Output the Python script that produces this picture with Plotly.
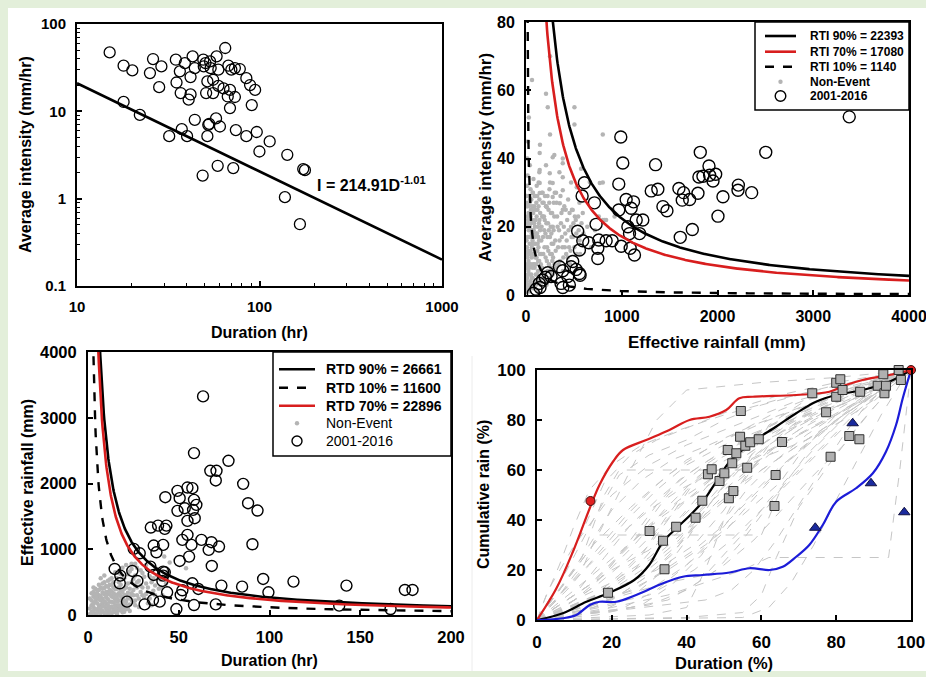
import numpy as np
import plotly.graph_objects as go

FONT = "Liberation Sans, Arial, Helvetica, sans-serif"
RED = "#d81e1e"
BLUE = "#1c1cd8"
DOT_GREY = "#b4b4b4"
W, H = 926, 677

# ---------------- (a) intensity vs duration, 2001-2016 events ----------------
id_duration = [15.1, 18.0, 20.1, 18.0, 22.1, 26.1, 25.1, 29.0, 28.2, 32.0, 34.8, 35.1,
               36.6, 37.0, 37.5, 39.0, 40.1, 40.9, 41.9, 41.9, 43.0, 44.2, 44.2, 49.2,
               49.5, 50.6, 51.8, 51.0, 51.8, 52.4, 53.0, 54.0, 53.6, 55.7, 55.7, 57.8,
               58.2, 59.5, 59.5, 60.7, 59.0, 48.8, 64.9, 63.5, 67.0, 67.5, 68.9, 68.9,
               70.1, 71.8, 73.3, 73.3, 74.2, 78.0, 84.7, 84.7, 88.8, 90.7, 94.6, 96.6,
               99.9, 113.7, 137.8, 142.0, 166.5, 173.6, 177.4]
id_intensity = [47.3, 33.3, 29.4, 12.8, 9.1, 39.7, 27.4, 32.7, 18.9, 5.2, 39.0, 21.4,
                28.7, 16.2, 6.25, 35.7, 5.2, 13.6, 15.6, 24.7, 42.6, 31.3, 8.0, 39.0,
                32.7, 35.7, 22.0, 16.2, 5.2, 7.0, 7.2, 31.3, 37.3, 16.2, 23.0, 8.3,
                42.6, 19.6, 30.0, 6.7, 2.38, 1.84, 53.1, 18.3, 14.8, 33.3, 10.9, 17.6,
                30.0, 2.24, 31.3, 14.6, 6.1, 30.5, 24.0, 5.2, 20.0, 11.8, 17.6, 5.8,
                3.47, 4.52, 1.04, 3.18, 0.51, 2.18, 2.12]
ID_COEF = 214.91
ID_EXP = -1.01

# ---------------- (b) intensity vs effective rainfall ----------------
rti_names = ["RTI 90% = 22393", "RTI 70% = 17080", "RTI 10% = 1140"]
rti_values = [22393, 17080, 1140]

ri_rain = [3376, 2504, 1820, 990, 1011, 1353, 969, 610, 586, 715, 732, 750, 750, 760,
           969, 1046, 1123, 1098, 1064, 1081, 1088, 1133, 1151, 1220, 1186, 994, 900,
           837, 656, 593, 540, 558, 1308, 1377, 1430, 1472, 1597, 1646, 1632, 1709,
           1796, 1806, 1848, 1911, 1918, 1981, 1953, 2057, 2005, 2218, 2214, 2357,
           1737, 1611, 349, 384, 471, 523, 558, 565, 436, 366, 384, 453, 262, 227,
           202, 174, 146, 105, 77, 139, 488]
ri_intensity = [52.2, 41.8, 41.8, 46.3, 38.7, 38.2, 32.5, 32.9, 29.0, 27.0, 20.7, 10.7,
                13.7, 16.1, 24.9, 28.0, 27.3, 25.4, 20.0, 18.0, 13.7, 11.7, 22.0, 22.0,
                18.0, 14.3, 15.9, 15.9, 15.3, 15.9, 18.7, 13.2, 30.5, 31.0, 25.9, 24.7,
                31.2, 30.0, 27.8, 28.0, 29.8, 34.6, 34.8, 37.8, 35.1, 35.4, 33.4, 28.8,
                23.1, 32.2, 30.7, 30.0, 19.2, 16.9, 8.3, 7.1, 8.3, 7.5, 6.3, 5.8, 5.4,
                3.4, 2.2, 2.9, 5.4, 6.5, 5.2, 4.4, 2.2, 1.7, 0.5, 3.4, 9.8]

ne_rain = [8, 12, 6, 15, 9, 20, 18, 5, 25, 11, 30, 22, 7, 35, 28, 14, 40, 33, 45, 38,
           50, 42, 55, 48, 60, 52, 17, 3, 26, 36, 44, 58, 62, 21, 31, 9, 47, 57, 66, 13,
           70, 75, 80, 85, 72, 90, 95, 100, 105, 110, 115, 120, 78, 88, 98, 125, 130,
           135, 140, 145, 68, 83, 93, 108, 118, 128, 138, 148, 112, 132, 103, 122,
           155, 160, 170, 180, 190, 200, 210, 220, 230, 240, 250, 260, 270, 280, 290,
           165, 185, 205, 225, 245, 265, 285, 175, 215, 255, 195, 235, 275, 295, 300,
           310, 330, 350, 370, 390, 410, 430, 450, 470, 490, 510, 530, 550, 320, 360,
           400, 440, 480, 520, 560, 340, 380, 420, 460, 580, 600, 640, 680, 720, 760,
           63, 251, 209, 227, 506, 506, 802, 146, 251, 296, 384, 209, 349, 139, 251,
           471, 575, 70, 174, 314, 63, 209, 384, 558, 802, 837, 174, 35, 143, 279, 384,
           143, 248, 384, 143, 279, 384, 530, 666, 771, 143, 279, 217, 353, 488, 593,
           802, 907, 820, 925, 20, 30, 15, 40,
           4, 6, 10, 13, 16, 19, 23, 27, 29, 32, 34, 37, 39, 43, 46, 49, 51, 54, 56, 59,
           61, 64, 67, 69, 73, 76, 79, 81, 84, 87, 89, 92, 94, 97, 101, 104, 107, 111,
           114, 117, 121, 124, 127, 131, 134, 137, 141, 144, 147, 152, 158, 163, 168,
           172, 178, 183, 188, 193, 198, 203, 208, 213, 218, 223, 228, 233, 238, 243,
           248, 253, 258, 263, 268, 273, 278, 283, 288, 298, 305, 315, 325, 335, 345,
           355, 365, 375, 385, 395, 405, 415, 425, 435, 445, 455, 465, 475, 495, 505,
           525, 545, 565]
ne_intensity = [2, 5, 8, 11, 14, 3, 17, 20, 7, 23, 12, 26, 29, 1, 19, 32, 9, 24, 4, 15,
                21, 28, 6, 13, 18, 25, 35, 12, 10, 6, 17, 11, 3, 22, 29, 26, 31, 15, 22, 1,
                5, 12, 19, 26, 30, 8, 15, 22, 3, 11, 18, 25, 34, 2, 29, 7, 14, 21, 28, 4,
                16, 9, 20, 27, 13, 17, 10, 24, 32, 33, 6, 1,
                9, 16, 23, 12, 19, 6, 26, 14, 21, 9, 17, 24, 12, 20, 27,
                30, 27, 11, 29, 31, 18, 15, 5, 3, 7, 22, 25, 10, 23, 30,
                13, 20, 16, 24, 11, 18, 22, 14, 20, 17, 23, 12, 19, 27, 29,
                26, 28, 25, 22, 16, 9, 14, 12, 9, 21, 18, 20, 14, 19, 23,
                63, 70, 59, 55, 55, 50, 47, 44, 47, 41, 40, 38, 36, 36, 33,
                33, 37, 30, 30, 30, 26, 26, 25, 27, 33, 22, 23, 20, 41.6, 40.4, 38.6,
                36.6, 35.7, 34.5, 32.8, 32.8, 30.7, 31.6, 33.1, 32.8, 29.9, 28.7, 25.8, 26.9, 24.9, 24.0,
                22.0, 24.9, 22, 23, 45, 52, 40, 38,
                4, 16, 27, 9, 21, 6, 13, 24, 3, 17, 8, 27, 20, 12, 2, 23, 9, 19, 28, 5,
                14, 25, 8, 19, 2, 24, 9, 15, 21, 12, 29, 4, 17, 11, 25, 18, 9, 23,
                6, 29, 15, 20, 10, 26, 5, 16, 22, 12, 19, 3, 12, 20, 8,
                27, 17, 5, 23, 14, 29, 18, 4, 21, 10, 17, 7, 13, 19, 27,
                5, 12, 20, 8, 15, 24, 6, 11, 19, 9, 16, 8, 23, 14, 19,
                10, 21, 17, 7, 20, 14, 25, 16, 11, 19, 24, 13, 17, 21, 14,
                18, 23, 12]

# ---------------- (c) effective rainfall vs duration ----------------
rtd_names = ["RTD 90% = 26661", "RTD 10% = 11600", "RTD 70% = 22896"]
rtd_values = [26661, 11600, 22896]

rd_duration = [63.4, 58.4, 77.4, 67.4, 70.8, 70.4, 85.5, 88.2, 93.4, 90.6, 42.6, 49.3,
               50.5, 54.8, 57.5, 58.4, 59.7, 53.3, 49.3, 57.9, 54.8, 58.8, 34.6, 38.6,
               43.2, 42.3, 54.8, 52.0, 57.0, 55.7, 50.5, 62.5, 68.0, 72.2, 66.5, 68.2,
               36.2, 41.4, 37.7, 25.2, 28.5, 14.7, 17.8, 17.5, 24.4, 27.2, 34.4, 36.2,
               41.4, 41.4, 42.3, 41.0, 21.5, 31.2, 35.8, 39.5, 43.6, 48.7, 51.1, 52.0,
               57.5, 60.8, 58.4, 70.4, 73.5, 84.9, 96.5, 99.4, 113.2, 142.4, 138.4,
               166.7, 174.6, 178.8]
rd_rain = [3325, 2462, 2345, 2193, 2193, 2046, 1995, 1700, 1589, 1076, 1792, 1888,
           1777, 1939, 1929, 1751, 1675, 1624, 1584, 1599, 1431, 1472, 1330, 1360,
           1360, 1310, 1218, 1142, 1066, 888, 822, 1142, 1107, 1041, 990, 746,
           1056, 1066, 954, 1005, 939, 700, 599, 482, 670, 518, 736, 609,
           660, 599, 650, 518, 203, 162, 228, 203, 345, 91, 305, 376,
           482, 396, 152, 162, 447, 431, 548, 345, 508, 447, 142,
           91, 381, 381]

ne_duration = [2, 3, 4, 5, 6, 7, 8, 9, 10, 11, 12, 13, 14, 15, 16, 17, 18, 19, 20, 21, 22,
               3, 4, 5, 6, 7, 8, 9, 10, 11, 12, 13, 14, 15, 16, 17, 18, 19, 20, 21,
               2, 3, 5, 6, 7, 8, 9, 10, 11, 12, 13, 14, 15, 16, 17, 18, 19,
               23, 24, 25, 26, 27, 28, 29, 30, 31, 32, 33, 34, 36, 38, 40, 42, 44, 54,
               35, 37, 22, 24, 26, 20, 18, 16, 14, 12, 10, 8, 6, 4,
               1, 2, 3, 4, 5, 6, 7, 8, 9, 10, 11, 12, 13, 14, 15, 16, 17, 18, 19, 20,
               21, 22, 23, 24, 25, 26, 27, 28, 30, 32, 34, 36, 39, 41, 43,
               1, 1, 2, 2, 3, 3, 4, 4, 5, 5, 6, 6, 7, 7, 8, 8, 9, 9, 10, 10, 11, 11, 12, 12,
               13, 13, 14, 14, 15, 15, 16, 16, 17, 17, 18, 18, 19, 19, 20, 20, 21, 21, 22, 22,
               23, 23, 24, 25, 25, 26, 26, 27, 28, 29, 30, 31, 33, 35, 37, 38, 40, 13, 11, 9,
               7, 15, 19, 17, 23, 27, 21, 29, 32, 45, 24]
ne_rain3 = [50, 120, 200, 80, 300, 150, 250, 30, 180, 350, 100, 280, 420, 60, 200, 330,
            130, 260, 400, 90, 480,
            350, 20, 260, 140, 420, 60, 320, 90, 240, 460, 30, 190, 310, 110, 500, 380,
            40, 220, 300,
            220, 280, 380, 40, 220, 340, 130, 270, 20, 200, 360, 90, 240, 400, 70, 290, 180,
            160, 330, 550, 220, 420, 120, 350, 640, 260, 480, 180, 590, 370, 700, 540,
            890, 660, 710,
            150, 450, 620, 700, 780, 560, 620, 560, 500, 540, 440, 480, 460, 400,
            10, 150, 60, 310, 180, 240, 80, 170, 410, 350, 150, 310, 200, 270, 150, 300,
            220, 80, 350, 120,
            200, 340, 280, 230, 380, 450, 300, 520, 420, 320, 250, 560, 400, 300, 480,
            100, 250, 330, 20, 180, 420, 90, 260, 30, 330, 100, 380, 290, 30, 130, 400,
            210, 500, 40, 300, 100, 430, 60, 380, 130, 460, 330, 40, 390, 100, 250, 20,
            150, 420, 220, 460, 100, 550, 300, 50, 420, 150, 250, 100, 400, 60, 500, 200,
            300, 150, 600, 500, 250, 450, 300, 580, 420, 500, 300, 600, 420, 560, 520, 600,
            560, 650, 720, 640, 660, 720, 760, 680, 760, 800, 780]

# ---------------- (d) mass curves of cumulative rain ----------------
mass_curves = [
    [(0, 0), (10, 8), (20, 15), (30, 25), (40, 38), (50, 55), (60, 70), (70, 82), (80, 90), (90, 96), (100, 100)],
    [(0, 0), (5, 10), (15, 30), (25, 45), (35, 58), (45, 68), (55, 76), (65, 84), (75, 90), (88, 96), (100, 100)],
    [(0, 0), (10, 3), (20, 6), (30, 12), (40, 22), (50, 35), (60, 52), (70, 68), (80, 80), (90, 92), (100, 100)],
    [(0, 0), (8, 20), (15, 40), (22, 58), (30, 66), (40, 72), (50, 80), (60, 86), (75, 92), (90, 97), (100, 100)],
    [(0, 0), (20, 5), (35, 10), (45, 15), (55, 20), (62, 25), (94, 25), (97, 60), (100, 100)],
    [(0, 0), (12, 20), (16, 34), (60, 34), (66, 55), (75, 70), (85, 85), (100, 100)],
    [(0, 0), (5, 5), (15, 15), (25, 30), (35, 50), (45, 62), (55, 72), (65, 78), (75, 85), (85, 92), (100, 100)],
    [(0, 0), (30, 2), (40, 5), (45, 20), (50, 40), (55, 55), (62, 70), (70, 80), (80, 88), (90, 95), (100, 100)],
    [(0, 0), (15, 5), (25, 12), (35, 20), (45, 30), (55, 42), (65, 55), (72, 70), (80, 82), (90, 92), (100, 100)],
    [(0, 0), (6, 15), (12, 35), (18, 55), (25, 66), (32, 72), (42, 78), (52, 84), (65, 90), (80, 95), (100, 100)],
    [(0, 0), (10, 10), (18, 25), (25, 38), (32, 48), (40, 58), (48, 66), (58, 74), (68, 82), (80, 90), (100, 100)],
    [(0, 0), (40, 1), (55, 3), (60, 10), (64, 25), (70, 45), (78, 62), (86, 78), (93, 90), (100, 100)],
    [(0, 0), (20, 20), (30, 28), (38, 40), (46, 52), (54, 60), (62, 66), (72, 72), (82, 80), (92, 90), (100, 100)],
    [(0, 0), (8, 4), (18, 10), (28, 18), (36, 28), (44, 40), (52, 50), (60, 60), (68, 68), (78, 78), (88, 88), (100, 100)],
    [(0, 0), (3, 12), (10, 30), (20, 50), (30, 62), (40, 70), (50, 76), (60, 82), (70, 88), (85, 94), (100, 100)],
    [(0, 0), (25, 5), (35, 8), (42, 14), (50, 22), (58, 32), (66, 45), (74, 58), (82, 70), (90, 85), (100, 100)],
    [(0, 0), (14, 8), (22, 18), (30, 30), (36, 42), (42, 55), (48, 64), (56, 70), (66, 78), (78, 86), (90, 94), (100, 100)],
    [(0, 0), (12, 25), (18, 50), (22, 60), (55, 60), (62, 78), (72, 88), (85, 93), (95, 97), (100, 100)],
    [(0, 0), (15, 30), (25, 60), (32, 80), (40, 92), (60, 95), (80, 97), (100, 100)],
    [(0, 0), (5, 2), (12, 6), (20, 14), (28, 26), (34, 40), (40, 52), (48, 62), (58, 70), (70, 78), (84, 88), (100, 100)],
    [(0, 0), (18, 10), (26, 20), (33, 32), (40, 44), (47, 56), (54, 66), (62, 74), (72, 82), (84, 90), (100, 100)],
    [(0, 0), (30, 10), (42, 20), (52, 32), (60, 44), (68, 56), (76, 68), (84, 80), (92, 90), (100, 100)],
    [(0, 0), (4, 6), (10, 18), (16, 28), (24, 42), (32, 54), (40, 64), (50, 72), (62, 80), (76, 88), (90, 95), (100, 100)],
    [(0, 0), (55, 1), (62, 5), (68, 15), (74, 30), (80, 48), (86, 65), (92, 82), (97, 94), (100, 100)],
    [(0, 0), (10, 6), (20, 12), (32, 20), (42, 30), (50, 44), (56, 58), (62, 68), (70, 76), (80, 84), (92, 94), (100, 100)],
    [(0, 0), (22, 14), (30, 22), (38, 32), (44, 44), (50, 52), (58, 62), (66, 72), (74, 80), (84, 88), (100, 100)],
    [(0, 0), (6, 10), (14, 22), (22, 34), (30, 44), (38, 52), (46, 58), (56, 66), (66, 76), (78, 86), (90, 94), (100, 100)],
    [(0, 0), (16, 2), (28, 6), (36, 14), (44, 26), (50, 40), (56, 52), (64, 64), (72, 74), (82, 84), (92, 93), (100, 100)],
    [(0, 0), (2, 8), (6, 22), (10, 38), (14, 52), (20, 62), (28, 70), (38, 76), (50, 82), (64, 88), (80, 94), (100, 100)],
    [(0, 0), (35, 15), (45, 18), (50, 26), (56, 36), (62, 48), (70, 60), (78, 72), (86, 84), (94, 94), (100, 100)],
    [(0, 0), (8, 6), (16, 14), (24, 24), (32, 36), (40, 48), (48, 58), (56, 66), (64, 74), (74, 82), (86, 90), (100, 100)],
    [(0, 0), (12, 4), (22, 10), (30, 18), (38, 30), (46, 44), (54, 56), (62, 66), (70, 74), (80, 82), (90, 90), (100, 100)],
    [(0, 0), (6, 4), (14, 12), (20, 22), (26, 34), (32, 46), (38, 56), (46, 64), (56, 72), (68, 80), (82, 88), (100, 100)],
    [(0, 0), (20, 8), (28, 16), (36, 26), (42, 38), (48, 50), (54, 60), (62, 70), (72, 80), (84, 88), (100, 100)],
    [(0, 0), (10, 12), (18, 22), (26, 32), (34, 42), (42, 50), (50, 58), (60, 66), (70, 74), (80, 82), (92, 92), (100, 100)],
    [(0, 0), (4, 2), (10, 8), (18, 18), (26, 30), (34, 44), (42, 56), (50, 66), (60, 76), (70, 84), (82, 92), (100, 100)],
    [(0, 0), (26, 12), (34, 20), (42, 28), (50, 38), (58, 50), (66, 62), (74, 72), (82, 82), (90, 90), (100, 100)],
    [(0, 0), (14, 14), (22, 26), (30, 38), (38, 48), (46, 56), (54, 62), (62, 68), (72, 76), (84, 86), (100, 100)],
    [(0, 0), (18, 4), (26, 10), (34, 20), (40, 32), (46, 46), (52, 58), (60, 68), (68, 76), (78, 84), (90, 92), (100, 100)],
    [(0, 0), (8, 12), (16, 26), (24, 40), (32, 52), (40, 62), (50, 70), (60, 76), (72, 84), (86, 92), (100, 100)],
    [(0, 0), (45, 8), (52, 12), (58, 20), (64, 32), (70, 46), (76, 60), (82, 74), (88, 86), (94, 94), (100, 100)],
    [(0, 0), (2, 4), (8, 16), (14, 30), (20, 44), (28, 56), (36, 64), (46, 70), (58, 78), (72, 86), (86, 94), (100, 100)],
    [(0, 0), (22, 4), (32, 12), (40, 22), (48, 34), (56, 48), (64, 60), (72, 70), (80, 80), (90, 90), (100, 100)],
    [(0, 0), (30, 6), (40, 12), (48, 20), (54, 30), (60, 42), (66, 54), (72, 66), (80, 78), (90, 90), (100, 100)],
    [(0, 0), (16, 10), (24, 18), (32, 26), (40, 36), (48, 46), (56, 56), (64, 64), (74, 74), (86, 86), (100, 100)],
]

median_x = [0, 6.9, 13.2, 19, 26, 30, 33.7, 37.5, 41, 44.3, 47.9, 51.5, 57.7, 63.9, 69.3, 74.6, 80, 87.1, 94.2, 100]
median_y = [0, 2.7, 7.3, 10.7, 16, 22, 31.3, 37, 42, 47.3, 55.3, 63.3, 71.3, 77.3, 82.7, 87.3, 90, 92, 95.3, 100]
upper_x = [0, 5.2, 9.6, 14.1, 16.7, 20.3, 23, 29.2, 35.4, 40.8, 46.1, 50.6, 54.1, 57.7, 69.3, 78.2, 82.6, 87.1, 94.2, 100]
upper_y = [0, 12.7, 27.3, 44.7, 54, 63.3, 68, 72, 76, 80, 81.3, 84, 88.7, 89.3, 90, 91.3, 94, 96, 98, 100]
lower_x = [0, 6.9, 10.5, 14.1, 16.7, 21.2, 26.5, 33.7, 39, 44.3, 51.5, 56.8, 62.2, 65.7, 69.3, 72.8, 76.4, 80, 85.3, 89.8, 93.3, 96, 97.8, 100]
lower_y = [0, 0.7, 2, 6, 7.3, 7.3, 10, 14.7, 17.3, 18, 19, 20.7, 20, 21.3, 25.3, 30, 38, 47.3, 52.7, 58.7, 67.3, 78, 88.7, 100]

event_dur_pct = [19, 34.1, 30.1, 33.7, 37.2, 42.4, 44.2, 45.7, 46.7, 48.8, 50.1, 51, 51.3,
                 52.5, 52.2, 53.3, 54.3, 54.5, 55.7, 56.2, 57, 59.3, 63.8, 63.5, 65.5,
                 73.6, 77.3, 78.5, 80, 80, 81.1, 81.7, 83.5, 86.2, 86.4, 91.1, 92.6,
                 92.9, 93.3, 96.7, 97.3]
event_rain_pct = [10.9, 20.3, 35.6, 31.7, 37.3, 40.9, 47.7, 58.3, 60.3, 55.6, 58.7, 68,
                  48.7, 51.6, 62.7, 66.7, 73.3, 83.6, 69.7, 60.9, 71.1, 72.3, 58, 45.6,
                  71.2, 90.7, 83.1, 65.3, 94.9, 89.3, 96.3, 92, 73.6, 72.3, 91.3, 93.7,
                  98.3, 90.7, 93.7, 100, 96]
late_dur_pct = [74.4, 84.4, 89.3, 98.2]
late_rain_pct = [36.9, 78.7, 54.7, 43.1]
early_dur_pct = [14.3, 100]
early_rain_pct = [47.6, 100]

fig = go.Figure()

# (a)
fig.add_trace(go.Scatter(x=id_duration, y=id_intensity, mode="markers", xaxis="x", yaxis="y",
                         marker=dict(symbol="circle-open", size=11, color="black", line=dict(width=1.3)),
                         showlegend=False))
d_fit = np.logspace(1, 3, 60)
fig.add_trace(go.Scatter(x=d_fit, y=ID_COEF * d_fit ** ID_EXP, mode="lines", xaxis="x", yaxis="y",
                         line=dict(color="black", width=2.6), showlegend=False))

# (b)
fig.add_trace(go.Scatter(x=ne_rain, y=ne_intensity, mode="markers", xaxis="x2", yaxis="y2",
                         marker=dict(size=4.5, color=DOT_GREY), showlegend=False))
fig.add_trace(go.Scatter(x=ri_rain, y=ri_intensity, mode="markers", xaxis="x2", yaxis="y2",
                         marker=dict(symbol="circle-open", size=12, color="black", line=dict(width=1.4)),
                         showlegend=False))
r_axis = np.linspace(10, 4000, 800)
rti_styles = [dict(color="black", width=2.6), dict(color=RED, width=2.6),
              dict(color="black", width=2.4, dash="dash")]
for val, st in zip(rti_values, rti_styles):
    fig.add_trace(go.Scatter(x=r_axis, y=val / r_axis, mode="lines", xaxis="x2", yaxis="y2",
                             line=st, showlegend=False))

# (c)
fig.add_trace(go.Scatter(x=ne_duration, y=ne_rain3, mode="markers", xaxis="x3", yaxis="y3",
                         marker=dict(size=4.5, color=DOT_GREY), showlegend=False))
fig.add_trace(go.Scatter(x=rd_duration, y=rd_rain, mode="markers", xaxis="x3", yaxis="y3",
                         marker=dict(symbol="circle-open", size=11, color="black", line=dict(width=1.4)),
                         showlegend=False))
d_axis = np.linspace(1, 200, 800)
rtd_styles = [dict(color="black", width=2.6), dict(color="black", width=2.4, dash="dash"),
              dict(color=RED, width=2.6)]
for val, st in zip(rtd_values, rtd_styles):
    fig.add_trace(go.Scatter(x=d_axis, y=val / d_axis, mode="lines", xaxis="x3", yaxis="y3",
                             line=st, showlegend=False))

# (d)
mx, my = [], []
for curve in mass_curves:
    for px_, py_ in curve:
        mx.append(px_)
        my.append(py_)
    mx.append(None)
    my.append(None)
fig.add_trace(go.Scatter(x=mx, y=my, mode="lines", xaxis="x4", yaxis="y4",
                         line=dict(color="#c6c6c6", width=1, dash="dash"), showlegend=False))
fig.add_trace(go.Scatter(x=median_x, y=median_y, mode="lines", xaxis="x4", yaxis="y4",
                         line=dict(color="black", width=2.2, shape="spline"), showlegend=False))
fig.add_trace(go.Scatter(x=upper_x, y=upper_y, mode="lines", xaxis="x4", yaxis="y4",
                         line=dict(color=RED, width=2.2, shape="spline"), showlegend=False))
fig.add_trace(go.Scatter(x=lower_x, y=lower_y, mode="lines", xaxis="x4", yaxis="y4",
                         line=dict(color=BLUE, width=2.2, shape="spline"), showlegend=False))
fig.add_trace(go.Scatter(x=event_dur_pct, y=event_rain_pct, mode="markers", xaxis="x4", yaxis="y4",
                         marker=dict(symbol="square", size=9, color="#b0b0b0", line=dict(color="#303030", width=1)),
                         showlegend=False, cliponaxis=False))
fig.add_trace(go.Scatter(x=late_dur_pct, y=late_rain_pct, mode="markers", xaxis="x4", yaxis="y4",
                         marker=dict(symbol="triangle-up", size=10, color="#1a2a9e", line=dict(color="#101040", width=1)),
                         showlegend=False, cliponaxis=False))
fig.add_trace(go.Scatter(x=early_dur_pct, y=early_rain_pct, mode="markers", xaxis="x4", yaxis="y4",
                         marker=dict(symbol="circle", size=9, color="#e02020", line=dict(color="#401010", width=1)),
                         showlegend=False, cliponaxis=False))


def px_x(a, b):
    return [a / W, b / W]


def px_y(top, bottom):
    return [1 - bottom / H, 1 - top / H]


def axis_style(tick_size):
    return dict(showline=True, linecolor="black", linewidth=2, mirror=True, ticks="inside",
                ticklen=5, tickwidth=1.5, tickcolor="black", showgrid=False, zeroline=False,
                tickfont=dict(family=FONT, size=tick_size, color="black", weight="bold"),
                ticklabelstandoff=6, automargin=False, ticklabeloverflow="allow")


minor_log_x = [v * m for m in (10, 100) for v in range(2, 10)]
minor_log_y = [v * m for m in (0.1, 1, 10) for v in range(2, 10)]


def axis_title(text, cx, cy, size, vertical=False):
    return dict(text=f"<b>{text}</b>", xref="paper", yref="paper", x=cx / W, y=1 - cy / H,
                xanchor="center", yanchor="middle", showarrow=False, textangle=-90 if vertical else 0,
                font=dict(family=FONT, size=size, color="black"))


shapes = [
    dict(type="rect", xref="paper", yref="paper", x0=8 / W, x1=1, y0=1 - 671 / H, y1=1 - 8 / H,
         fillcolor="white", line=dict(width=0), layer="below"),
    dict(type="line", xref="paper", yref="paper", x0=472 / W, x1=472 / W, y0=1 - 671 / H, y1=1 - 356 / H,
         line=dict(color="#ececec", width=1), layer="below"),
]
annotations = [
    dict(text="<b>I = 214.91D<sup>-1.01</sup></b>", xref="paper", yref="paper",
         x=315 / W, y=1 - 184 / H, xanchor="left", yanchor="middle", showarrow=False,
         font=dict(family=FONT, size=16, color="black")),
    axis_title("Duration (hr)", 259, 332, 16),
    axis_title("Average intensity (mm/hr)", 25, 155, 16, vertical=True),
    axis_title("Effective rainfall (mm)", 717, 342, 17),
    axis_title("Average intensity (mm/hr)", 485, 158, 17, vertical=True),
    axis_title("Duration (hr)", 269, 660, 16),
    axis_title("Effective rainfall (mm)", 27, 483, 16, vertical=True),
    axis_title("Duration (%)", 724, 663, 16.5),
    axis_title("Cumulative rain (%)", 483, 495, 16, vertical=True),
]


def add_key(box, rows, sample_x, text_x, font_size, entries):
    """Draw a boxed key: entries are (kind, style, label, bold)."""
    x0, y0, x1, y1 = box
    shapes.append(dict(type="rect", xref="paper", yref="paper", x0=x0 / W, x1=x1 / W,
                       y0=1 - y1 / H, y1=1 - y0 / H, fillcolor="white",
                       line=dict(color="black", width=1.5), layer="above"))
    sx0, sx1 = sample_x
    for ry, (kind, style, label, bold) in zip(rows, entries):
        if kind == "line":
            shapes.append(dict(type="line", xref="paper", yref="paper", x0=sx0 / W, x1=sx1 / W,
                               y0=1 - ry / H, y1=1 - ry / H, line=style, layer="above"))
        else:
            cx = (sx0 + sx1) / 2
            r = style["r"]
            shapes.append(dict(type="circle", xref="paper", yref="paper",
                               x0=(cx - r) / W, x1=(cx + r) / W, y0=1 - (ry + r) / H, y1=1 - (ry - r) / H,
                               fillcolor=style["fill"], line=style["line"], layer="above"))
        annotations.append(dict(text=f"<b>{label}</b>" if bold else label, xref="paper", yref="paper",
                                x=text_x / W, y=1 - ry / H, xanchor="left", yanchor="middle",
                                showarrow=False, font=dict(family=FONT, size=font_size, color="black")))


dot_style = dict(r=2.2, fill=DOT_GREY, line=dict(width=0))
ring_style = dict(r=5.3, fill="white", line=dict(color="black", width=1.4))

add_key((755, 22, 909, 110), [36, 51.7, 66.7, 81.7, 96], (765, 796), 808, 12,
        [("line", rti_styles[0], rti_names[0], True),
         ("line", rti_styles[1], rti_names[1], True),
         ("line", rti_styles[2], rti_names[2], True),
         ("mark", dot_style, "Non-Event", True),
         ("mark", ring_style, "2001-2016", True)])

add_key((273, 352, 451, 456), [369.3, 387.7, 405.7, 423.3, 441], (279, 315), 324, 14,
        [("line", rtd_styles[0], rtd_names[0], True),
         ("line", rtd_styles[1], rtd_names[1], True),
         ("line", rtd_styles[2], rtd_names[2], True),
         ("mark", dot_style, "Non-Event", False),
         ("mark", dict(r=5, fill="white", line=dict(color="black", width=1.4)), "2001-2016", False)])

layout = dict(
    width=W, height=H, margin=dict(l=0, r=0, t=0, b=0, autoexpand=False),
    paper_bgcolor="#e3efda", plot_bgcolor="white",
    font=dict(family=FONT, color="black"),
    showlegend=False,
    xaxis=dict(axis_style(15), domain=px_x(77, 442), anchor="y", type="log", range=[1, 3],
               tickvals=[10, 100, 1000], ticktext=["10", "100", "1000"],
               minor=dict(ticks="inside", ticklen=3, tickwidth=1, tickcolor="black", tickvals=minor_log_x)),
    yaxis=dict(axis_style(15), domain=px_y(24, 286), anchor="x", type="log", range=[-1, 2],
               tickvals=[0.1, 1, 10, 100], ticktext=["0.1", "1", "10", "100"],
               minor=dict(ticks="inside", ticklen=3, tickwidth=1, tickcolor="black", tickvals=minor_log_y)),
    xaxis2=dict(axis_style(16), domain=px_x(526, 909), anchor="y2", range=[0, 4000],
                tickvals=[0, 1000, 2000, 3000, 4000]),
    yaxis2=dict(axis_style(16), domain=px_y(22, 295), anchor="x2", range=[0, 80],
                tickvals=[0, 20, 40, 60, 80]),
    xaxis3=dict(axis_style(16.5), domain=px_x(88, 451), anchor="y3", range=[0, 200],
                tickvals=[0, 50, 100, 150, 200]),
    yaxis3=dict(axis_style(16.5), domain=px_y(352, 615), anchor="x3", range=[0, 4000],
                tickvals=[0, 1000, 2000, 3000, 4000]),
    xaxis4=dict(axis_style(17), domain=px_x(537, 911), anchor="y4", range=[0, 100],
                tickvals=[0, 20, 40, 60, 80, 100]),
    yaxis4=dict(axis_style(17), domain=px_y(370, 620), anchor="x4", range=[0, 100],
                tickvals=[0, 20, 40, 60, 80, 100]),
    shapes=shapes,
    annotations=annotations,
)
fig.update_layout(layout)
fig.write_html("out.html")
